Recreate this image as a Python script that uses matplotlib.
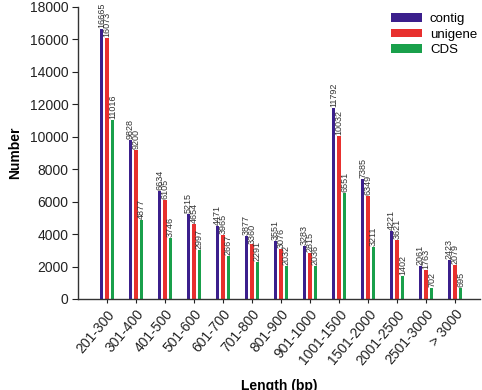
import matplotlib
matplotlib.use("Agg")
import matplotlib.pyplot as plt
import numpy as np

plt.rcParams['font.family'] = ['Liberation Sans', 'DejaVu Sans']

categories = ["201-300", "301-400", "401-500", "501-600", "601-700", "701-800",
              "801-900", "901-1000", "1001-1500", "1501-2000", "2001-2500",
              "2501-3000", "> 3000"]
contig = [16665, 9828, 6634, 5215, 4471, 3877, 3551, 3283, 11792, 7385, 4221, 2061, 2423]
unigene = [16073, 9200, 6105, 4654, 3965, 3360, 3076, 2815, 10032, 6349, 3621, 1763, 2079]
cds = [11016, 4877, 3746, 2997, 2667, 2291, 2032, 2036, 6551, 3211, 1402, 702, 695]
series = [("contig", contig, "#3b1f8c"), ("unigene", unigene, "#e8302e"), ("CDS", cds, "#19a04b")]

fig = plt.figure(figsize=(4.82, 3.90), dpi=100)
ax = fig.add_axes([78/482, 1-299/390, (480-78)/482, (299-7)/390])

x = np.arange(len(categories))
w = 0.13
offs = [-0.19, 0.0, 0.19]
for (name, vals, col), o in zip(series, offs):
    ax.bar(x + o, vals, width=w, color=col, label=name, zorder=2)
    for xi, v in zip(x + o, vals):
        ax.text(xi, v + 60, str(v), rotation=90, ha='center', va='bottom',
                fontsize=6.5, color='#333333')

ax.set_xlim(-1, 12.86)
ax.set_ylim(0, 18000)
ax.set_yticks(np.arange(0, 18001, 2000))
ax.tick_params(axis='y', labelsize=10, length=4, width=0.8, colors='#222222', pad=3)
ax.set_xticks(x)
ax.set_xticklabels(categories, rotation=50, ha='right', rotation_mode='anchor', fontsize=10)
ax.tick_params(axis='x', length=3, width=0.8, pad=3, colors='#222222')
for s in ['top', 'right']:
    ax.spines[s].set_visible(False)
for s in ['left', 'bottom']:
    ax.spines[s].set_linewidth(1.0)
    ax.spines[s].set_color('#333333')

ax.set_ylabel("Number", fontsize=10, fontweight='bold')
ax.yaxis.set_label_coords(-0.14, 0.5)
ax.set_xlabel("Length (bp)", fontsize=10, fontweight='bold')
ax.xaxis.set_label_coords(0.5, -0.275)

fig.legend(*ax.get_legend_handles_labels(), loc='upper left',
           bbox_to_anchor=(391/482, 1-13/390), frameon=False,
           fontsize=9.5, handlelength=2.35, handleheight=0.6,
           handletextpad=0.6, labelspacing=0.27, borderpad=0, borderaxespad=0)

fig.savefig("out.png", dpi=100)
